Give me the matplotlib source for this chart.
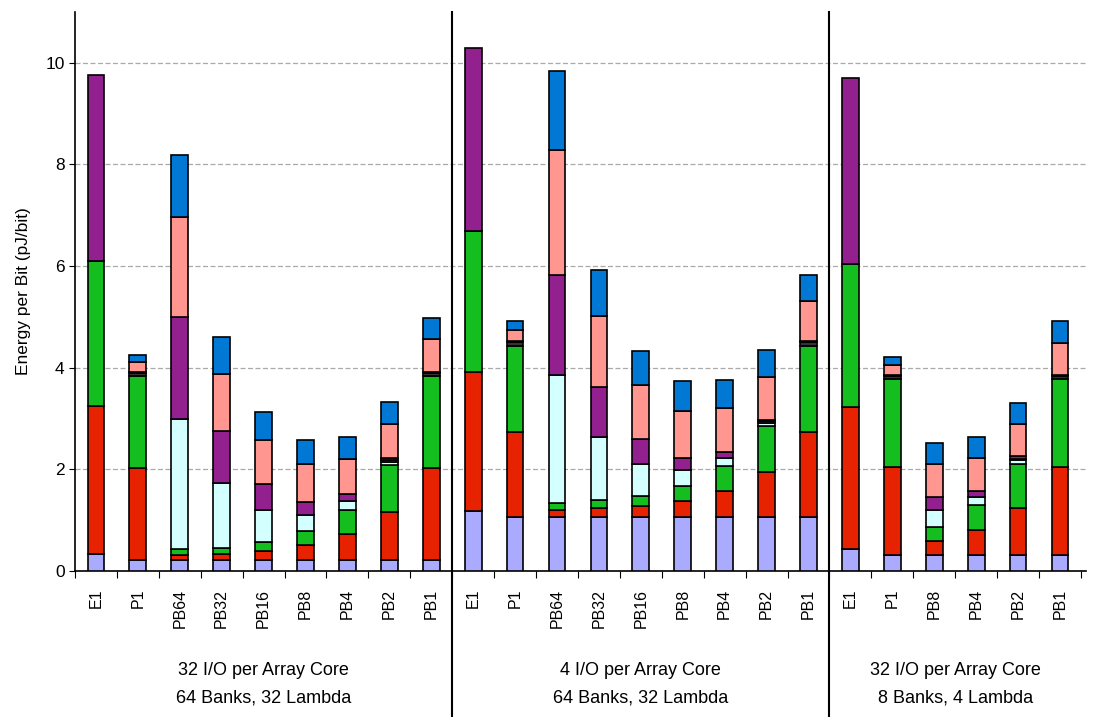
import numpy as np
import matplotlib
matplotlib.use('Agg')
import matplotlib.pyplot as plt

plt.rcParams['font.family'] = ['Liberation Sans', 'DejaVu Sans']

labels = ['E1', 'P1', 'PB64', 'PB32', 'PB16', 'PB8', 'PB4', 'PB2', 'PB1',
          'E1', 'P1', 'PB64', 'PB32', 'PB16', 'PB8', 'PB4', 'PB2', 'PB1',
          'E1', 'P1', 'PB8', 'PB4', 'PB2', 'PB1']
group_titles = ['32 I/O per Array Core\n64 Banks, 32 Lambda',
                '4 I/O per Array Core\n64 Banks, 32 Lambda',
                '32 I/O per Array Core\n8 Banks, 4 Lambda']
group_sizes = [9, 9, 6]

# energy components, pJ/bit, bottom to top
lavender = [0.34, 0.22, 0.21, 0.21, 0.21, 0.21, 0.21, 0.21, 0.21,
            1.19, 1.07, 1.07, 1.07, 1.07, 1.06, 1.06, 1.06, 1.06,
            0.44, 0.31, 0.31, 0.31, 0.31, 0.31]
red = [2.90, 1.81, 0.11, 0.13, 0.19, 0.30, 0.51, 0.96, 1.82,
       2.73, 1.67, 0.14, 0.17, 0.21, 0.32, 0.51, 0.89, 1.67,
       2.79, 1.74, 0.29, 0.50, 0.92, 1.74]
green = [2.86, 1.80, 0.11, 0.12, 0.17, 0.28, 0.49, 0.92, 1.80,
         2.78, 1.69, 0.12, 0.15, 0.19, 0.29, 0.50, 0.90, 1.70,
         2.82, 1.72, 0.27, 0.48, 0.88, 1.72]
cyan = [0, 0, 2.57, 1.28, 0.64, 0.32, 0.17, 0.06, 0,
        0, 0, 2.52, 1.24, 0.63, 0.32, 0.15, 0.07, 0,
        0, 0, 0.33, 0.17, 0.07, 0]
dark = [0, 0.07, 0, 0, 0, 0, 0, 0.03, 0.07,
        0, 0.07, 0, 0, 0, 0, 0, 0.03, 0.07,
        0, 0.07, 0, 0, 0.03, 0.07]
purple = [3.67, 0.02, 2.00, 1.02, 0.51, 0.25, 0.13, 0.05, 0.02,
          3.59, 0.02, 1.97, 0.99, 0.50, 0.24, 0.12, 0.03, 0.02,
          3.65, 0.02, 0.26, 0.11, 0.05, 0.02]
pink = [0, 0.20, 1.97, 1.12, 0.85, 0.74, 0.69, 0.67, 0.65,
        0, 0.22, 2.46, 1.40, 1.06, 0.92, 0.86, 0.84, 0.79,
        0, 0.19, 0.64, 0.66, 0.64, 0.63]
blue = [0, 0.14, 1.22, 0.72, 0.55, 0.47, 0.44, 0.43, 0.41,
        0, 0.18, 1.55, 0.90, 0.67, 0.59, 0.55, 0.53, 0.52,
        0, 0.16, 0.42, 0.41, 0.41, 0.42]

series = [lavender, red, green, cyan, dark, purple, pink, blue]
colors = ['#AAAAFF', '#E62200', '#14BE1E', '#D4FFFF', '#333333',
          '#93208F', '#FF9690', '#0078D4']

fig = plt.figure(figsize=(10.97, 7.17), dpi=100)
ax = fig.add_axes([75 / 1097, 1 - 571 / 717, 1011 / 1097, 559 / 717])

x = np.arange(len(labels)) + 0.5
bottom = np.zeros(len(labels))
for vals, c in zip(series, colors):
    vals = np.array(vals)
    mask = vals > 0
    ax.bar(x[mask], vals[mask], width=0.4, bottom=bottom[mask], color=c,
           edgecolor='black', linewidth=1.2, zorder=3)
    bottom += vals

ax.set_xlim(0, 24.12)
ax.set_ylim(0, 11)
ax.set_yticks([0, 2, 4, 6, 8, 10])
ax.tick_params(axis='y', labelsize=12.5, length=4, direction='out')
ax.yaxis.grid(True, linestyle=(0, (4, 2)), color='#AAAAAA', linewidth=0.9, zorder=0)
ax.set_ylabel('Energy per Bit (pJ/bit)', fontsize=12.5, labelpad=10)

ax.set_xticks(np.arange(0, 25))
ax.set_xticklabels([])
ax.tick_params(axis='x', length=5, direction='out')
for xi, lab in zip(x, labels):
    ax.text(xi, -0.35, lab, rotation=90, ha='center', va='top', fontsize=11.5)

for s in ['top', 'right']:
    ax.spines[s].set_visible(False)
for s in ['left', 'bottom']:
    ax.spines[s].set_linewidth(1.2)

# group separators run from the top of the plot down to the figure edge
start = 0
for i, (n, title) in enumerate(zip(group_sizes, group_titles)):
    centre = start + n / 2
    ax.text(centre, -1.80, title, ha='center', va='top', fontsize=13,
            linespacing=1.75)
    start += n
    if i < len(group_sizes) - 1:
        ax.plot([start, start], [11, -3.0], color='black', linewidth=1.5,
                clip_on=False, zorder=4)

fig.savefig('out.png', dpi=100)
